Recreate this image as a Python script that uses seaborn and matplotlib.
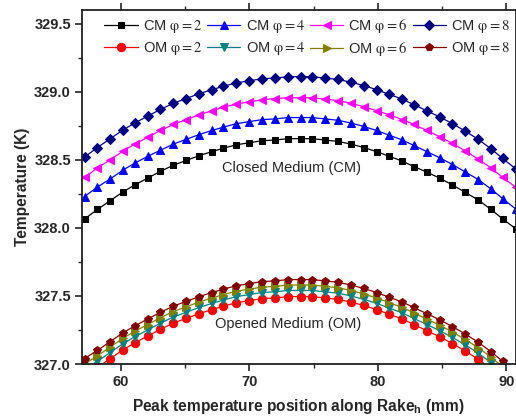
import numpy as np
import pandas as pd
import matplotlib
matplotlib.use("Agg")
import matplotlib.pyplot as plt
import seaborn as sns

# peak position along rake (mm)
pos = [57.2, 58.2, 59.2, 60.2, 61.1, 62.1, 63.1, 64.1, 65.1, 66.1, 67.1, 68.0,
       69.0, 70.0, 71.0, 72.0, 73.0, 74.0, 74.9, 75.9, 76.9, 77.9, 78.9, 79.9,
       80.9, 81.9, 82.8, 83.8, 84.8, 85.8, 86.8, 87.8, 88.8, 89.7, 90.7]

cm2 = [328.065, 328.135, 328.20, 328.265, 328.315, 328.365, 328.415, 328.46, 328.495,
       328.53, 328.56, 328.585, 328.61, 328.625, 328.64, 328.645, 328.655, 328.655,
       328.655, 328.645, 328.635, 328.615, 328.59, 328.56, 328.525, 328.49, 328.45,
       328.41, 328.365, 328.315, 328.26, 328.205, 328.135, 328.065, 327.995]
cm4 = [328.23, 328.30, 328.36, 328.425, 328.475, 328.525, 328.57, 328.615, 328.65,
       328.685, 328.715, 328.74, 328.765, 328.78, 328.795, 328.80, 328.81, 328.81,
       328.81, 328.80, 328.79, 328.77, 328.745, 328.715, 328.68, 328.645, 328.605,
       328.56, 328.515, 328.465, 328.41, 328.355, 328.285, 328.215, 328.14]
cm6 = [328.37, 328.44, 328.50, 328.565, 328.615, 328.665, 328.715, 328.76, 328.795,
       328.83, 328.86, 328.885, 328.91, 328.925, 328.94, 328.95, 328.955, 328.955,
       328.955, 328.945, 328.935, 328.915, 328.89, 328.86, 328.83, 328.795, 328.76,
       328.715, 328.67, 328.62, 328.565, 328.505, 328.44, 328.37, 328.30]
cm8 = [328.52, 328.59, 328.655, 328.72, 328.77, 328.82, 328.87, 328.915, 328.95,
       328.985, 329.015, 329.04, 329.065, 329.08, 329.095, 329.10, 329.11, 329.11,
       329.11, 329.10, 329.09, 329.07, 329.045, 329.015, 328.98, 328.945, 328.905,
       328.86, 328.815, 328.765, 328.71, 328.65, 328.58, 328.51, 328.435]

om8 = [327.04, 327.10, 327.165, 327.23, 327.28, 327.33, 327.38, 327.425, 327.46,
       327.495, 327.525, 327.55, 327.575, 327.59, 327.605, 327.61, 327.62, 327.62,
       327.62, 327.61, 327.60, 327.58, 327.555, 327.525, 327.49, 327.455, 327.415,
       327.37, 327.325, 327.275, 327.22, 327.16, 327.09, 327.02, 326.945]
om6 = [327.00, 327.06, 327.125, 327.19, 327.24, 327.29, 327.34, 327.385, 327.42,
       327.455, 327.485, 327.51, 327.535, 327.55, 327.565, 327.57, 327.58, 327.58,
       327.58, 327.57, 327.56, 327.54, 327.515, 327.485, 327.45, 327.415, 327.375,
       327.33, 327.285, 327.235, 327.18, 327.12, 327.05, 326.98, 326.905]
om4 = [326.96, 327.02, 327.085, 327.15, 327.20, 327.25, 327.30, 327.345, 327.38,
       327.415, 327.445, 327.47, 327.495, 327.51, 327.525, 327.53, 327.54, 327.54,
       327.54, 327.53, 327.52, 327.50, 327.475, 327.445, 327.41, 327.375, 327.335,
       327.29, 327.245, 327.195, 327.14, 327.08, 327.01, 326.94, 326.865]
om2 = [326.915, 326.975, 327.04, 327.105, 327.155, 327.205, 327.255, 327.30, 327.335,
       327.37, 327.40, 327.425, 327.45, 327.465, 327.48, 327.485, 327.495, 327.495,
       327.495, 327.485, 327.475, 327.455, 327.43, 327.40, 327.365, 327.33, 327.29,
       327.245, 327.20, 327.15, 327.095, 327.035, 326.965, 326.895, 326.82]

sns.set_style("ticks")
plt.rcParams['font.family'] = ['Liberation Sans', 'DejaVu Sans']
plt.rcParams['mathtext.fontset'] = 'stix'

fig = plt.figure(figsize=(5.16, 4.17), dpi=100)
ax = fig.add_axes([82 / 516, 1 - 364 / 417, 433.5 / 516, 354 / 417])

series = [
    ("CM", "2", cm2, "black", "s"),
    ("OM", "2", om2, "#ff0000", "o"),
    ("CM", "4", cm4, "#0000ff", "^"),
    ("OM", "4", om4, "#008080", "v"),
    ("CM", "6", cm6, "#ff00ff", "<"),
    ("OM", "6", om6, "#808000", ">"),
    ("CM", "8", cm8, "#000080", "D"),
    ("OM", "8", om8, "#800000", "p"),
]

for med, phi, vals, col, mk in series:
    ms = 5 if mk in ("s", "D") else 6
    sns.lineplot(x=pos, y=vals, ax=ax, color=col, marker=mk, markersize=ms,
                 markeredgecolor=col, linewidth=0.9,
                 label=f"{med} $\\mathrm{{\u03c6{{=}}{phi}}}$")

ax.set_xlim(57, 90.7)
ax.set_ylim(327.0, 329.6)
ax.set_xticks([60, 70, 80, 90])
ax.set_xticks([65, 75, 85], minor=True)
ax.set_yticks([327.0, 327.5, 328.0, 328.5, 329.0, 329.5])
ax.set_yticks([327.25, 327.75, 328.25, 328.75, 329.25], minor=True)
ax.yaxis.set_major_formatter(matplotlib.ticker.FormatStrFormatter('%.1f'))

ax.tick_params(which='major', direction='out', length=5, width=1.2, labelsize=10.5,
               top=True, right=True, pad=3)
ax.tick_params(which='minor', direction='out', length=3, width=1.0, top=True, right=True)
for lab in ax.get_xticklabels() + ax.get_yticklabels():
    lab.set_fontweight('bold')
for sp in ax.spines.values():
    sp.set_linewidth(1.3)
    sp.set_color('#222222')

ax.set_xlabel("Peak temperature position along Rake$_\\mathregular{h}$ (mm)",
              fontsize=11.2, fontweight='bold', labelpad=6)
ax.set_ylabel("Temperature (K)", fontsize=11.2, fontweight='bold', labelpad=3)

ax.text(73.3, 328.44, "Closed Medium (CM)", ha='center', va='center', fontsize=10.5)
ax.text(73.0, 327.295, "Opened Medium (OM)", ha='center', va='center', fontsize=10.5)

handles, labels = ax.get_legend_handles_labels()
ax.legend(handles, labels, ncol=4, loc='upper center', bbox_to_anchor=(0.52, 1.0),
          frameon=False, fontsize=10.5, handlelength=2.3, handletextpad=0.35,
          columnspacing=0.3, labelspacing=0.3, borderaxespad=0.1)

fig.savefig("out.png", dpi=100)
